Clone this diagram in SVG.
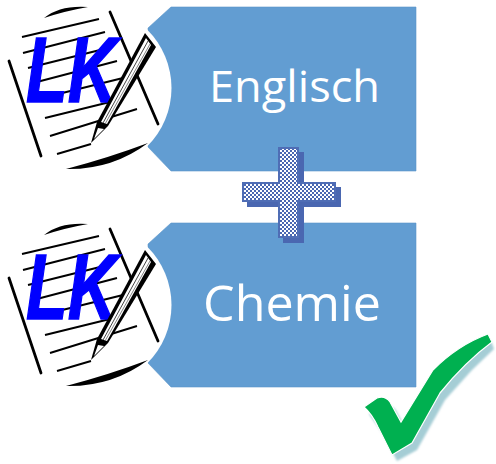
<svg xmlns="http://www.w3.org/2000/svg" width="496" height="464" viewBox="0 0 496 464">
<style>
.box{fill:#629dd2;stroke:#5b95c9;stroke-width:.6}
.lab{font-family:"Open Sans",Lato,sans-serif;fill:#fff}
.lk{font-family:"Liberation Sans",Arial,sans-serif;font-weight:bold;font-style:italic;font-size:92px;fill:#00f;stroke:#00f;stroke-width:1.5}
.rule{stroke:#000;stroke-width:1.9;fill:none}
.edge{stroke:#000;stroke-width:2.8;fill:none;stroke-linecap:round}
</style>
<defs>
<pattern id="chk" width="4" height="4" patternUnits="userSpaceOnUse">
<rect width="4" height="4" fill="#fff"/>
<rect width="2" height="2" fill="#4a67b1"/>
<rect x="2" y="2" width="2" height="2" fill="#4a67b1"/>
</pattern>
<filter id="soft" x="-10%" y="-10%" width="120%" height="120%"><feGaussianBlur stdDeviation="1.2"/></filter>
<g id="icon">
<circle cx="89" cy="88" r="82.5" fill="#fff"/>
<path class="rule" d="M22 37 99 19M23 53 105 32M28 68 112 47M33 83 117 61M38 99 123 78M45 118 110 102M50 136 137 109M57 154 91 144"/>
<path class="edge" d="M9 61 41 156M110 12 158 124"/>
<path d="M44 18Q60 5 88 7 65 11 44 18ZM66 169Q108 158 148 143 112 170 66 169Z" fill="#000"/>
<text class="lk" x="26" y="102" textLength="91" lengthAdjust="spacingAndGlyphs">LK</text>
<path d="M91 143 97 122 145 33 156 47 108 126Z" fill="#000"/>
<path d="M101 122 146 38 151 45 107 124Z" fill="#fff"/>
<path d="M103 123 148 41" stroke="#444" stroke-width="1" fill="none"/>
<path d="M105 124 150 44" stroke="#666" stroke-width=".8" fill="none"/>
<path d="M98 128 104 129 94 139Z" fill="#fff"/>
</g>
</defs>
<g id="english">
<path class="box" d="M171 7H416V171H171L148 147V28Z"/>
<use href="#icon"/>
<text class="lab" x="209" y="102" font-size="44" textLength="171" lengthAdjust="spacingAndGlyphs">Englisch</text>
</g>
<g id="chemie">
<path class="box" d="M171 223H416V387H171L148 363V244Z"/>
<use href="#icon" y="217"/>
<text class="lab" x="203" y="321" font-size="50" textLength="178" lengthAdjust="spacingAndGlyphs">Chemie</text>
</g>
<g id="plus">
<path d="M283 152H304V187H341V207H304V243H283V207H247V187H283Z" fill="#4a67b1"/>
<path d="M279 148H298V183H335V201H298V237H279V201H243V183H279Z" fill="url(#chk)" stroke="#4f6db5" stroke-width="2"/>
</g>
<g id="check">
<path d="M369 414 387 403 395 409 406 429 438 377 468 354 491 341 494 349 472 370 445 400 417 450 397 461 383 434Z" fill="#a5cdd5" filter="url(#soft)"/>
<path d="M364 407 377 398Q385 395 390 402L401 422 433 370Q458 345 488 334L492 342Q465 362 440 393L412 443 392 455 378 427Q372 414 364 407Z" fill="#00b050" stroke="#fff" stroke-width="1.2"/>
</g>
</svg>
